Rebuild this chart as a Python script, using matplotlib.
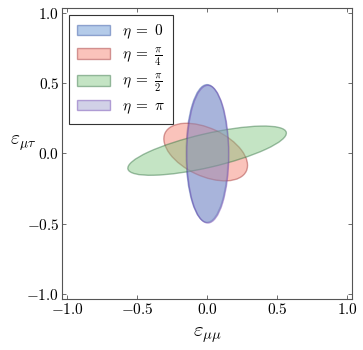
import matplotlib
matplotlib.use("Agg")
import matplotlib.pyplot as plt
from matplotlib.patches import Ellipse
import numpy as np

plt.rcParams['mathtext.fontset'] = 'cm'
plt.rcParams['font.family'] = 'serif'
plt.rcParams['font.serif'] = ['cmr10', 'DejaVu Serif']
plt.rcParams['axes.formatter.use_mathtext'] = True
plt.rcParams['axes.unicode_minus'] = True

labels = [r'$\eta\;=\;0$', r'$\eta\;=\;\frac{\pi}{4}$', r'$\eta\;=\;\frac{\pi}{2}$', r'$\eta\;=\;\pi$']
centers_x = [0.0, -0.01, 0.0, 0.005]
centers_y = [0.0, 0.01, 0.02, -0.005]
semi_major = [0.49, 0.32, 0.58, 0.49]
semi_minor = [0.15, 0.17, 0.12, 0.15]
angles = [90, -25, 13, 90]
face_colors = ['#5a8cd0', '#f47a6a', '#7cc47c', '#9a9acb']
edge_colors = ['#3050a0', '#a03030', '#307040', '#6a40b0']
ticks = [-1.0, -0.5, 0.0, 0.5, 1.0]

fig = plt.figure(figsize=(3.63, 3.5), dpi=100)
ax = fig.add_axes([0.171, 0.146, 0.799, 0.831])

for i in range(len(labels)):
    e = Ellipse((centers_x[i], centers_y[i]), 2 * semi_major[i], 2 * semi_minor[i],
                angle=angles[i], facecolor=face_colors[i], alpha=0.45,
                edgecolor=edge_colors[i], linewidth=1.0, label=labels[i])
    ax.add_patch(e)

ax.set_xlim(-1.035, 1.035)
ax.set_ylim(-1.035, 1.035)
ax.set_xticks(ticks)
ax.set_yticks(ticks)
ax.set_xticklabels([f'${t:.1f}$' for t in ticks], fontsize=11)
ax.set_yticklabels([f'${t:.1f}$' for t in ticks], fontsize=11)
ax.tick_params(direction='in', length=3, width=0.6, top=True, right=True, pad=2, color='#555555')
for s in ax.spines.values():
    s.set_color('#555555')
    s.set_linewidth(0.8)

ax.set_xlabel(r'$\varepsilon_{\mu\mu}$', fontsize=15, labelpad=6)
ax.set_ylabel(r'$\varepsilon_{\mu\tau}$', fontsize=14, rotation=0, va='center', ha='center')
ax.yaxis.set_label_coords(-0.135, 0.535)

leg = ax.legend(loc='upper left', fontsize=11, handlelength=2.2, handleheight=0.7,
                borderpad=0.5, labelspacing=0.35, handletextpad=0.8,
                fancybox=False, framealpha=1, edgecolor='#333333',
                borderaxespad=0.45)
leg.get_frame().set_linewidth(0.8)

fig.savefig('out.png', dpi=100)
